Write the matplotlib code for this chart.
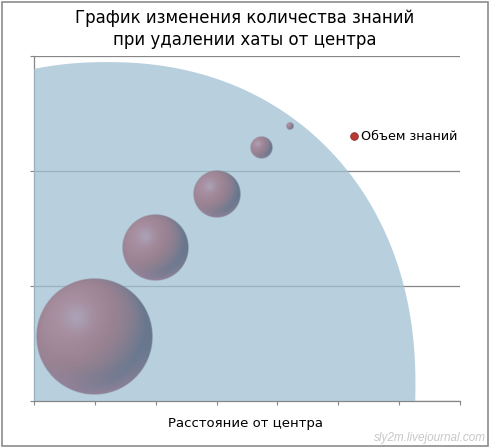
import numpy as np
import matplotlib
matplotlib.use("Agg")
import matplotlib.pyplot as plt
from matplotlib.patches import Polygon, Rectangle
from matplotlib.lines import Line2D

# ---- data ----
title_text = "График изменения количества знаний\nпри удалении хаты от центра"
x_label = "Расстояние от центра"
series_name = "Объем знаний"
distance = [1.0, 2.0, 3.0, 3.73, 4.2]          # x
level = [0.565, 1.333, 1.8, 2.2, 2.39]          # y
knowledge = [100.0, 32.4, 16.4, 3.7, 0.4]       # bubble size (area)
x_ticks = [0, 1, 2, 3, 4, 5, 6, 7]
y_ticks = [0, 1, 2, 3]
watermark = "sly2m.livejournal.com"

W, H = 490, 447
fig = plt.figure(figsize=(W / 100, H / 100), dpi=100)
ax = fig.add_axes([34 / W, (H - 401) / H, 426 / W, 345 / H])
ax.set_xlim(0, 7)
ax.set_ylim(0, 3)

grid_col = "#868686"
ax.set_xticks(x_ticks)
ax.set_yticks(y_ticks)
ax.set_xticklabels([])
ax.set_yticklabels([])
ax.tick_params(axis="both", direction="out", length=3, width=0.8, color=grid_col)
for s in ["top", "right"]:
    ax.spines[s].set_visible(False)
for s in ["left", "bottom"]:
    ax.spines[s].set_color(grid_col)
    ax.spines[s].set_linewidth(0.9)
    ax.spines[s].set_zorder(1)
ax.yaxis.grid(True, color=grid_col, linewidth=0.9, zorder=0)
ax.set_axisbelow(True)

# ---- decorative background superellipse (axes fraction) ----
cx, cy, a, b, n = 0.1714, 0.0464, 0.724, 0.936, 2.15
t = np.linspace(0, 2 * np.pi, 720)
ct, st = np.cos(t), np.sin(t)
px = cx + a * np.sign(ct) * np.abs(ct) ** (2 / n)
py = cy + b * np.sign(st) * np.abs(st) ** (2 / n)
bg = Polygon(np.column_stack([px, py]), closed=True, transform=ax.transAxes,
             facecolor=(160 / 255, 193 / 255, 212 / 255), alpha=0.75,
             edgecolor="none", zorder=2)
ax.add_patch(bg)


def sphere_rgba(N, dark, mid, light, spec, rim):
    yy, xx = np.mgrid[1:-1:N * 1j, -1:1:N * 1j]
    rr = np.sqrt(xx ** 2 + yy ** 2)
    z = np.sqrt(np.clip(1 - rr ** 2, 0, 1))
    L = np.array([-0.5, 0.4, 0.78])
    L = L / np.linalg.norm(L)
    d = np.clip(xx * L[0] + yy * L[1] + z * L[2], 0, 1)
    stops = [0.0, 0.3, 0.65, 1.0]
    cols = np.array([dark, [(dark[i] + mid[i]) / 2 for i in range(3)], mid, light])
    img = np.zeros((N, N, 4))
    for c in range(3):
        img[..., c] = np.interp(d, stops, cols[:, c])
    # specular highlight
    w = 0.55 * np.exp(-((xx + 0.3) ** 2 + (yy - 0.33) ** 2) / 0.05)
    for c in range(3):
        img[..., c] = img[..., c] * (1 - w) + spec[c] * w
    # bottom rim reflection
    wr = np.clip((rr - 0.65) / 0.35, 0, 1) * np.clip(-yy * 1.1 - xx * 0.2, 0, 1) * 0.6
    for c in range(3):
        img[..., c] = img[..., c] * (1 - wr) + rim[c] * wr
    img[..., 3] = np.clip((1 - rr) * N / 2, 0, 1)
    return np.clip(img, 0, 1)


dark = (0.41, 0.47, 0.56)
mid = (0.60, 0.51, 0.57)
light = (0.66, 0.56, 0.63)
spec = (0.68, 0.69, 0.78)
rim = (0.67, 0.54, 0.62)

R_MAX_PX = 58.5
p0 = ax.transData.transform((0, 0))
p1 = ax.transData.transform((1, 1))
ppx, ppy = p1[0] - p0[0], p1[1] - p0[1]
kmax = max(knowledge)
for xv, yv, kv in zip(distance, level, knowledge):
    r_px = R_MAX_PX * np.sqrt(kv / kmax)
    N = max(int(r_px * 4), 24)
    img = sphere_rgba(N, dark, mid, light, spec, rim)
    rx, ry = r_px / ppx, r_px / ppy
    ax.imshow(img, extent=[xv - rx, xv + rx, yv - ry, yv + ry], aspect="auto",
              interpolation="bilinear", zorder=5)
ax.set_xlim(0, 7)
ax.set_ylim(0, 3)

# ---- legend ----
handle = Line2D([], [], linestyle="none", marker="o", markersize=5.5,
                markerfacecolor="#b83a35", markeredgecolor="#8a2a26", markeredgewidth=0.6)
leg = fig.legend([handle], [series_name], loc="center left",
                 bbox_to_anchor=(349 / W, (H - 137) / H), frameon=False,
                 handlelength=0.8, handletextpad=0.15, borderpad=0, borderaxespad=0,
                 prop={"size": 9.2})

# ---- texts ----
fig.text(0.5, (H - 29) / H, title_text, ha="center", va="center", fontsize=12,
         linespacing=1.3, color="black")
fig.text(245 / W, (H - 424) / H, x_label, ha="center", va="center", fontsize=9.5,
         color="black")
fig.text(486 / W, (H - 438) / H, watermark, ha="right", va="center", fontsize=8.5,
         style="italic", family="Liberation Sans", color="#c8c8c8")

# ---- outer frame ----
fig.patches.append(Rectangle((1.5 / W, 1.5 / H), (W - 3.5) / W, (H - 3.5) / H,
                             transform=fig.transFigure, fill=False,
                             edgecolor="#8c8c8c", linewidth=1.2))

fig.savefig("out.png", dpi=100)
